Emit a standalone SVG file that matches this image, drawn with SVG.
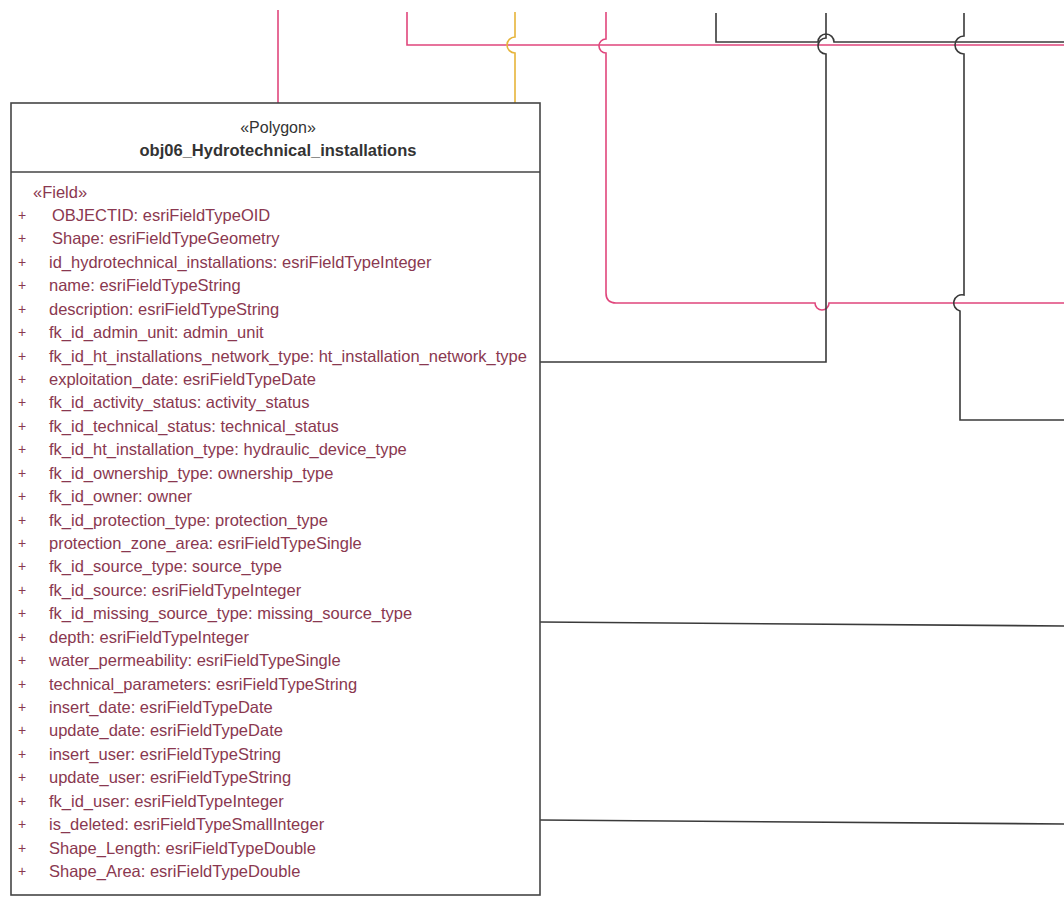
<svg xmlns="http://www.w3.org/2000/svg" width="1064" height="898" viewBox="0 0 1064 898">
<style>
.pink{fill:none;stroke:#e0467c;stroke-width:1.6}
.yel{fill:none;stroke:#e6b43a;stroke-width:1.6}
.blk{fill:none;stroke:#3a3a3a;stroke-width:1.6}
.box{fill:#ffffff;stroke:#454545;stroke-width:1.6}
.hd{font-family:"Liberation Sans",Arial,sans-serif;fill:#333333;text-anchor:middle}
.f{font-family:"Liberation Sans",Arial,sans-serif;font-size:16.5px;fill:#8a3850}
.p{font-family:"Liberation Sans",Arial,sans-serif;font-size:14px;fill:#8a3850}
</style>
<rect width="1064" height="898" fill="#ffffff"/>
<g id="connectors">
  <path class="pink" d="M278,10 V103"/>
  <path class="pink" d="M407,12 V45 H1064"/>
  <path class="yel" d="M515,12 V37 A8,8 0 0 0 515,53 V103"/>
  <path class="pink" d="M606,12 V39 A7,7 0 0 0 606,53 V293 Q606,303 616,303 H815 A7,7 0 0 0 829,303 H1064"/>
  <path class="blk" d="M716,13 V42 H818 A8,8 0 0 1 834,42 H1064"/>
  <path class="blk" d="M826,13 V38 A8,8 0 0 0 826,54 V362 H540"/>
  <path class="blk" d="M964,13 V36 A9,9 0 0 0 964,54 V295 A8,8 0 0 0 960,311 V420 H1064"/>
  <path class="blk" d="M540,622 L1064,626"/>
  <path class="blk" d="M540,820 L1064,824"/>
</g>
<g id="node-obj06">
  <rect class="box" x="11" y="103" width="529" height="792"/>
  <line class="box" x1="11" y1="172" x2="540" y2="172"/>
  <text class="hd" x="278" y="133" font-size="16">«Polygon»</text>
  <text class="hd" x="278" y="156" font-size="16.5" font-weight="bold">obj06_Hydrotechnical_installations</text>
  <text class="f" x="33" y="198" font-size="14.5px">«Field»</text>
  <g class="p">
    <text x="18" y="220">+</text><text x="18" y="243">+</text><text x="18" y="267">+</text><text x="18" y="290">+</text>
    <text x="18" y="314">+</text><text x="18" y="337">+</text><text x="18" y="361">+</text><text x="18" y="384">+</text>
    <text x="18" y="407">+</text><text x="18" y="431">+</text><text x="18" y="454">+</text><text x="18" y="478">+</text>
    <text x="18" y="501">+</text><text x="18" y="525">+</text><text x="18" y="548">+</text><text x="18" y="571">+</text>
    <text x="18" y="595">+</text><text x="18" y="618">+</text><text x="18" y="642">+</text><text x="18" y="665">+</text>
    <text x="18" y="689">+</text><text x="18" y="712">+</text><text x="18" y="735">+</text><text x="18" y="759">+</text>
    <text x="18" y="782">+</text><text x="18" y="806">+</text><text x="18" y="829">+</text><text x="18" y="853">+</text>
    <text x="18" y="876">+</text>
  </g>
  <g class="f">
    <text x="52" y="221">OBJECTID: esriFieldTypeOID</text>
    <text x="52" y="244">Shape: esriFieldTypeGeometry</text>
    <text x="49" y="268">id_hydrotechnical_installations: esriFieldTypeInteger</text>
    <text x="49" y="291">name: esriFieldTypeString</text>
    <text x="49" y="315">description: esriFieldTypeString</text>
    <text x="49" y="338">fk_id_admin_unit: admin_unit</text>
    <text x="49" y="362">fk_id_ht_installations_network_type: ht_installation_network_type</text>
    <text x="49" y="385">exploitation_date: esriFieldTypeDate</text>
    <text x="49" y="408">fk_id_activity_status: activity_status</text>
    <text x="49" y="432">fk_id_technical_status: technical_status</text>
    <text x="49" y="455">fk_id_ht_installation_type: hydraulic_device_type</text>
    <text x="49" y="479">fk_id_ownership_type: ownership_type</text>
    <text x="49" y="502">fk_id_owner: owner</text>
    <text x="49" y="526">fk_id_protection_type: protection_type</text>
    <text x="49" y="549">protection_zone_area: esriFieldTypeSingle</text>
    <text x="49" y="572">fk_id_source_type: source_type</text>
    <text x="49" y="596">fk_id_source: esriFieldTypeInteger</text>
    <text x="49" y="619">fk_id_missing_source_type: missing_source_type</text>
    <text x="49" y="643">depth: esriFieldTypeInteger</text>
    <text x="49" y="666">water_permeability: esriFieldTypeSingle</text>
    <text x="49" y="690">technical_parameters: esriFieldTypeString</text>
    <text x="49" y="713">insert_date: esriFieldTypeDate</text>
    <text x="49" y="736">update_date: esriFieldTypeDate</text>
    <text x="49" y="760">insert_user: esriFieldTypeString</text>
    <text x="49" y="783">update_user: esriFieldTypeString</text>
    <text x="49" y="807">fk_id_user: esriFieldTypeInteger</text>
    <text x="49" y="830">is_deleted: esriFieldTypeSmallInteger</text>
    <text x="49" y="854">Shape_Length: esriFieldTypeDouble</text>
    <text x="49" y="877">Shape_Area: esriFieldTypeDouble</text>
  </g>
</g>
</svg>
